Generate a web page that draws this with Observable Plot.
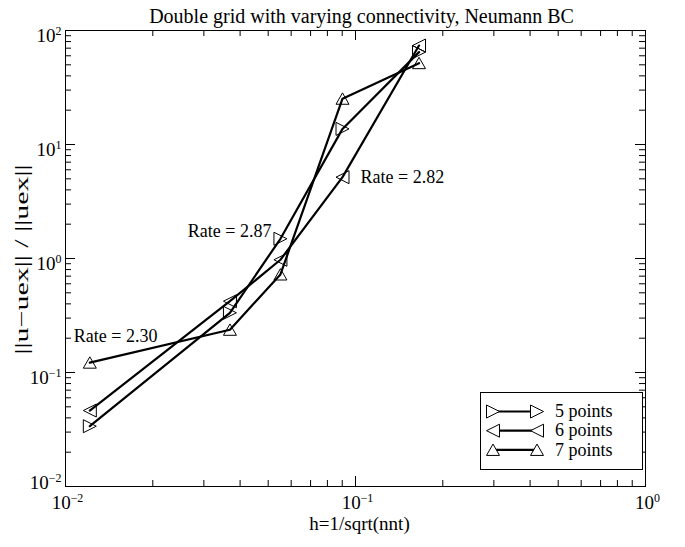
<!DOCTYPE html>
<html><head><meta charset="utf-8">
<script src="https://cdn.jsdelivr.net/npm/d3@7"></script>
<script src="https://cdn.jsdelivr.net/npm/@observablehq/plot@0.6"></script>
<style>body{margin:0;background:#fff;}</style>
</head><body><div id="chart"></div>
<script>
const title = "Double grid with varying connectivity, Neumann BC";
const xLabel = "h=1/sqrt(nnt)";
const yLabel = "||u\u2212uex|| / ||uex||";
const seriesNames = ["5 points", "6 points", "7 points"];
const hValues = [0.01213, 0.0369, 0.0551, 0.0902, 0.1656];
const err5 = [0.0338, 0.334, 1.49, 13.7, 64.6];
const err6 = [0.0464, 0.422, 0.975, 5.17, 73.8];
const err7 = [0.122, 0.237, 0.724, 25.2, 51.7];
const xTickValues = [0.01, 0.1, 1];
const xTickLabels = ["10^\u22122", "10^\u22121", "10^0"];
const yTickValues = [0.01, 0.1, 1, 10, 100];
const yTickLabels = ["10^\u22122", "10^\u22121", "10^0", "10^1", "10^2"];
const rateLabels = ["Rate = 2.30", "Rate = 2.87", "Rate = 2.82"];

const W = 685, H = 547, ML = 65, MR = 40, MT = 30, MB = 61;
const PW = W - ML - MR, PH = H - MT - MB;
const FONT = "Liberation Serif";

function minorTicks(lo, hi) {
  const out = [];
  for (let e = lo; e < hi; e++) for (let m = 2; m <= 9; m++) out.push(m * Math.pow(10, e));
  return out;
}
const xMinor = minorTicks(-2, 0);
const yMinor = minorTicks(-2, 2);

const triRight = {draw(ctx, size) { const s = Math.sqrt(size / Math.PI); ctx.moveTo(-s, -s); ctx.lineTo(s, 0); ctx.lineTo(-s, s); ctx.closePath(); }};
const triLeft = {draw(ctx, size) { const s = Math.sqrt(size / Math.PI); ctx.moveTo(s, -s); ctx.lineTo(-s, 0); ctx.lineTo(s, s); ctx.closePath(); }};
const triUp = {draw(ctx, size) { const s = Math.sqrt(size / Math.PI); ctx.moveTo(0, -s * 0.9); ctx.lineTo(s, s * 0.85); ctx.lineTo(-s, s * 0.85); ctx.closePath(); }};
const symbols = [triRight, triLeft, triUp];
const errs = [err5, err6, err7];

const rows = seriesNames.flatMap((name, i) => hValues.map((h, j) => ({series: name, h, err: errs[i][j]})));
const yTicks = yTickValues.map((v, i) => ({v, label: yTickLabels[i]}));

const tickStyle = {stroke: "black", strokeWidth: 1};
const marks = [
  Plot.frame({stroke: "black", strokeWidth: 1}),
  Plot.ruleX(xMinor, {...tickStyle, insetTop: PH - 6}),
  Plot.ruleX(xMinor, {...tickStyle, insetBottom: PH - 6}),
  Plot.ruleX(xTickValues, {...tickStyle, insetTop: PH - 10}),
  Plot.ruleX(xTickValues, {...tickStyle, insetBottom: PH - 10}),
  Plot.ruleY(yMinor, {...tickStyle, insetRight: PW - 6}),
  Plot.ruleY(yMinor, {...tickStyle, insetLeft: PW - 6}),
  Plot.ruleY(yTickValues, {...tickStyle, insetRight: PW - 10}),
  Plot.ruleY(yTickValues, {...tickStyle, insetLeft: PW - 10}),
  Plot.text(xTickValues, {x: d => d, text: (d, i) => xTickLabels[i], frameAnchor: "bottom", dy: 22, dx: 2, fontSize: 19, fill: "black"}),
  // lowest y label is lifted above the x labels, as in the reference
  Plot.text(yTicks.slice(0, 1), {y: "v", text: "label", frameAnchor: "left", textAnchor: "end", dx: -4, dy: -4, fontSize: 19, fill: "black"}),
  Plot.text(yTicks.slice(1), {y: "v", text: "label", frameAnchor: "left", textAnchor: "end", dx: -4, dy: 5, fontSize: 19, fill: "black"}),
  Plot.text([title], {frameAnchor: "top", dy: -21.5, dx: 6, fontSize: 20, fill: "black"}),
  Plot.text([xLabel], {frameAnchor: "bottom", dy: 43, dx: 4, fontSize: 19, fill: "black"}),
  Plot.text([yLabel], {frameAnchor: "left", textAnchor: "middle", rotate: -90, dx: -44, dy: 1, fontSize: 19, fill: "black", ariaLabel: "ylabel"}),
  Plot.line(rows, {x: "h", y: "err", z: "series", stroke: "black", strokeWidth: 2.2}),
  ...seriesNames.map((name, i) => Plot.dot(rows.filter(d => d.series === name), {x: "h", y: "err", symbol: symbols[i], r: 6.5, stroke: "black", strokeWidth: 1, fill: "none"})),
  Plot.text([rateLabels[0]], {x: () => hValues[0], y: () => err7[0], dx: -16, dy: -26, textAnchor: "start", fontSize: 18, fill: "black"}),
  Plot.text([rateLabels[1]], {x: () => hValues[2], y: () => err5[2], dx: -9, dy: -8, textAnchor: "end", fontSize: 18, fill: "black"}),
  Plot.text([rateLabels[2]], {x: () => hValues[3], y: () => err6[3], dx: 18, dy: 0, textAnchor: "start", fontSize: 18, fill: "black"})
];

const svg = Plot.plot({
  width: W, height: H,
  marginLeft: ML, marginRight: MR, marginTop: MT, marginBottom: MB,
  x: {type: "log", domain: [0.01, 1], axis: null},
  y: {type: "log", domain: [0.01, 100], axis: null},
  style: {fontFamily: FONT, background: "white", color: "black"},
  marks
});

// superscripts
d3.select(svg).selectAll("text").each(function() {
  const t = this.textContent;
  if (t.includes("^")) {
    const [b, e] = t.split("^");
    this.textContent = b;
    d3.select(this).append("tspan").attr("dy", "-0.55em").attr("font-size", "0.63em").text(e);
  }
});
// the reference's y label is stretched along its length
d3.select(svg).selectAll("text").filter(function() { return this.textContent === yLabel; })
  .attr("textLength", 190).attr("lengthAdjust", "spacingAndGlyphs");

// legend
const L = d3.select(svg).append("g").attr("font-family", FONT).attr("text-anchor", "start");
L.append("rect").attr("x", 480.5).attr("y", 392.5).attr("width", 162).attr("height", 77)
  .attr("fill", "white").attr("stroke", "black").attr("stroke-width", 1);
seriesNames.forEach((name, i) => {
  const yy = 411.5 + i * 19.2;
  L.append("line").attr("x1", 493).attr("x2", 537).attr("y1", yy).attr("y2", yy).attr("stroke", "black").attr("stroke-width", 2.2);
  [493, 537].forEach(xx => L.append("path").attr("d", d3.symbol(symbols[i], Math.PI * 6.5 * 6.5)())
    .attr("transform", `translate(${xx},${yy})`).attr("fill", "white").attr("stroke", "black"));
  L.append("text").attr("x", 555).attr("y", yy).attr("dy", "0.32em").attr("font-size", 18).attr("fill", "black").text(name);
});

document.getElementById("chart").appendChild(svg);
</script>
</body></html>
